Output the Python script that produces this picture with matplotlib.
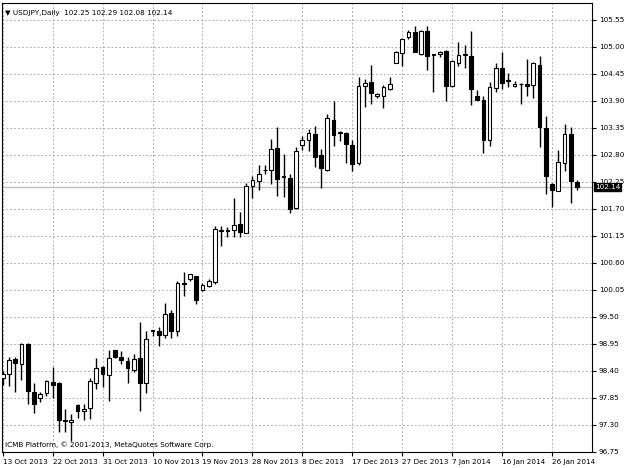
import matplotlib
matplotlib.use("Agg")
import matplotlib.pyplot as plt
import numpy as np

opens = [98.25,98.33,98.63,98.53,98.95,97.96,97.84,97.95,98.17,98.14,97.39,97.36,97.70,97.57,97.64,98.15,98.47,98.32,98.82,98.68,98.60,98.42,98.66,98.14,99.21,99.20,99.13,99.58,99.21,100.17,100.26,100.32,
         100.04,100.13,100.21,101.25,101.26,101.27,101.38,101.21,102.17,102.27,102.48,102.49,102.94,102.35,102.33,101.72,103.00,103.09,103.23,102.79,102.49,103.51,103.26,103.24,102.99,102.63,104.19,104.29,103.99,
         104.00,104.14,104.67,104.87,105.19,105.30,104.86,105.32,104.85,104.85,104.91,104.19,104.67,104.83,104.82,104.00,103.91,103.09,104.15,104.57,104.30,104.19,104.23,104.23,104.22,104.63,103.35,102.21,102.07,102.63,103.23,102.25]
highs = [98.40,98.68,98.68,98.97,98.97,98.14,97.96,98.22,98.47,98.16,97.61,97.51,97.73,97.72,98.26,98.66,98.49,98.83,98.83,98.81,98.67,98.74,99.39,99.21,99.23,99.28,99.78,99.64,100.23,100.41,100.37,100.33,
         100.18,100.26,101.34,101.35,101.32,101.91,101.64,102.23,102.37,102.59,102.59,103.12,103.36,102.82,102.41,102.95,103.19,103.32,103.39,102.91,103.63,103.89,103.28,103.27,103.09,104.38,104.34,104.63,104.06,
         104.21,104.38,104.91,105.17,105.35,105.42,105.34,105.43,104.86,104.91,104.93,104.72,105.10,105.04,105.32,104.11,104.00,104.29,104.67,104.90,104.46,104.30,104.26,104.74,104.68,104.82,103.58,102.22,102.90,103.42,103.36,102.29]
lows = [98.11,98.08,97.96,98.22,97.72,97.54,97.76,97.88,97.84,97.15,97.15,96.97,97.43,97.40,97.42,98.03,98.06,97.78,98.66,98.53,98.14,98.37,97.58,97.95,99.10,98.90,99.06,99.06,99.10,99.92,100.23,99.76,
        100.03,100.11,100.17,100.94,101.13,101.12,101.12,101.20,101.91,102.08,102.41,102.21,101.96,101.93,101.61,101.70,102.90,102.87,102.55,102.12,102.46,102.98,103.08,102.63,102.46,102.60,103.77,103.84,103.96,
        103.76,104.11,104.66,104.61,105.15,104.89,104.83,104.52,104.07,104.78,103.89,104.18,104.61,104.57,103.81,103.91,102.83,102.98,104.07,104.14,104.18,104.18,103.84,103.99,103.95,102.95,101.99,101.74,102.07,102.47,101.81,102.08]
closes = [98.33,98.61,98.56,98.94,97.98,97.73,97.93,98.18,98.11,97.40,97.38,97.40,97.58,97.61,98.18,98.45,98.33,98.66,98.68,98.61,98.45,98.64,98.14,99.04,99.22,99.13,99.55,99.21,100.19,100.18,100.36,99.84,
          100.15,100.23,101.28,101.26,101.25,101.36,101.23,102.17,102.29,102.41,102.48,102.91,102.30,102.36,101.70,102.87,103.10,103.24,102.76,102.52,103.55,103.20,103.25,103.01,102.61,104.19,104.27,104.06,104.03,
          104.17,104.25,104.90,105.15,105.30,104.89,105.31,104.82,104.84,104.90,104.19,104.71,104.83,104.83,104.14,103.92,103.09,104.17,104.57,104.27,104.30,104.23,104.23,104.20,104.66,103.36,102.37,102.08,102.66,103.23,102.26,102.14]

date_labels = ["13 Oct 2013","22 Oct 2013","31 Oct 2013","10 Nov 2013","19 Nov 2013","28 Nov 2013",
               "8 Dec 2013","17 Dec 2013","27 Dec 2013","7 Jan 2014","16 Jan 2014","26 Jan 2014"]
date_idx = [0,8,16,24,32,40,48,56,64,72,80,88]
price_ticks = [96.75 + 0.55*i for i in range(17)]
last_price = 102.14

FS = 5.2
W, H = 624, 468
fig = plt.figure(figsize=(W/100, H/100), dpi=100)
ax = fig.add_axes([2/W, (H-451.7)/H, 590/W, (451.7-3)/H])

n = len(opens)
x = np.arange(n)
ax.vlines(x, lows, highs, color="black", lw=1, zorder=3)
for i in range(n):
    o, c = opens[i], closes[i]
    lo, hi = min(o, c), max(o, c)
    h = max(hi - lo, 0.012)
    ax.bar(i, h, bottom=lo, width=0.6, color="white" if c >= o else "black",
           edgecolor="black", lw=0.8, zorder=4)

ax.set_xlim(-0.11, 94.4)
ax.set_ylim(96.75, 105.89)
ax.yaxis.tick_right()
ax.set_yticks(price_ticks)
ax.set_yticklabels([f"{p:.2f}" for p in price_ticks], fontsize=FS)
ax.set_xticks(date_idx)
ax.set_xticklabels(date_labels, fontsize=FS, ha="left")
ax.tick_params(length=3, width=0.8, pad=2)
for p in price_ticks:
    ax.axhline(p, color="#b0b0b0", lw=0.7, ls=(0, (2, 2)), zorder=1)
for d in date_idx:
    ax.axvline(d, color="#b0b0b0", lw=0.7, ls=(0, (2, 2)), zorder=1)
ax.axhline(last_price, color="#c0c0c0", lw=1, zorder=2)
ax.text(1.0 + 3/590, last_price, f"{last_price:.2f}", transform=ax.get_yaxis_transform(),
        fontsize=FS, color="white", va="center", ha="left",
        bbox=dict(boxstyle="square,pad=0.12", fc="black", ec="black"))
for s in ax.spines.values():
    s.set_linewidth(0.8)
ax.text(0.005, 0.985, "▼ USDJPY,Daily  102.25 102.29 102.08 102.14", transform=ax.transAxes,
        fontsize=FS, va="top", ha="left")
ax.text(0.005, 0.008, "ICMB Platform, © 2001-2013, MetaQuotes Software Corp.", transform=ax.transAxes,
        fontsize=FS, va="bottom", ha="left")
fig.savefig("out.png", dpi=100)
